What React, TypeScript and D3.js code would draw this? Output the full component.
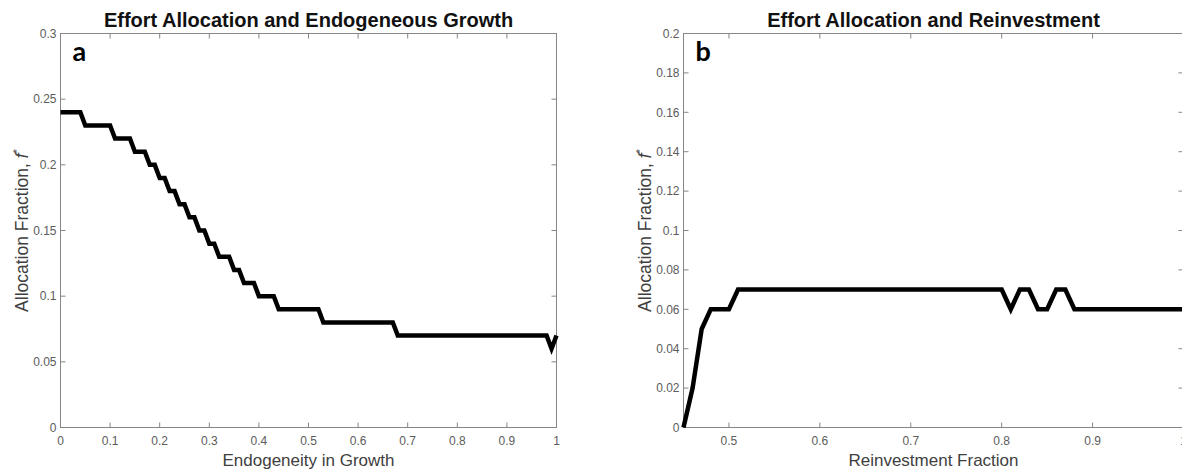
import React from 'react';
import * as d3 from 'd3';

// panel a: vertices of the stepped curve (endogeneity -> allocation fraction)
const endoX = [0, 0.04, 0.05, 0.10, 0.11, 0.14, 0.15, 0.17, 0.18, 0.19, 0.20, 0.21, 0.22, 0.23, 0.24, 0.25, 0.26, 0.27, 0.28, 0.29, 0.30, 0.31, 0.32, 0.34, 0.35, 0.36, 0.37, 0.39, 0.40, 0.43, 0.44, 0.52, 0.53, 0.67, 0.68, 0.98, 0.99, 1.0];
const endoY = [0.24, 0.24, 0.23, 0.23, 0.22, 0.22, 0.21, 0.21, 0.20, 0.20, 0.19, 0.19, 0.18, 0.18, 0.17, 0.17, 0.16, 0.16, 0.15, 0.15, 0.14, 0.14, 0.13, 0.13, 0.12, 0.12, 0.11, 0.11, 0.10, 0.10, 0.09, 0.09, 0.08, 0.08, 0.07, 0.07, 0.06, 0.07];

// panel b: reinvestment fraction -> allocation fraction
const reinvX = [0.45, 0.46, 0.47, 0.48, 0.50, 0.51, 0.80, 0.81, 0.82, 0.83, 0.84, 0.85, 0.86, 0.87, 0.88, 1.0];
const reinvY = [0, 0.02, 0.05, 0.06, 0.06, 0.07, 0.07, 0.06, 0.07, 0.07, 0.06, 0.06, 0.07, 0.07, 0.06, 0.06];

const endoXTicks = [0, 0.1, 0.2, 0.3, 0.4, 0.5, 0.6, 0.7, 0.8, 0.9, 1];
const endoXLabels = ['0', '0.1', '0.2', '0.3', '0.4', '0.5', '0.6', '0.7', '0.8', '0.9', '1'];
const endoYTicks = [0, 0.05, 0.1, 0.15, 0.2, 0.25, 0.3];
const endoYLabels = ['0', '0.05', '0.1', '0.15', '0.2', '0.25', '0.3'];

const reinvXTicks = [0.5, 0.6, 0.7, 0.8, 0.9, 1];
const reinvXLabels = ['0.5', '0.6', '0.7', '0.8', '0.9', '1'];
const reinvYTicks = [0, 0.02, 0.04, 0.06, 0.08, 0.1, 0.12, 0.14, 0.16, 0.18, 0.2];
const reinvYLabels = ['0', '0.02', '0.04', '0.06', '0.08', '0.1', '0.12', '0.14', '0.16', '0.18', '0.2'];

const AXIS = '#868686';
const TICKTXT = '#5c5c5c';
const LABEL = '#404040';
const FONT = '"Liberation Sans", Arial, Helvetica, sans-serif';

type PanelProps = {
  left: number; right: number; top: number; bottom: number;
  xDomain: [number, number]; yDomain: [number, number];
  xTicks: number[]; xLabels: string[]; yTicks: number[]; yLabels: string[];
  xs: number[]; ys: number[];
  title: string; xLabel: string; letter: string;
};

function Panel(p: PanelProps) {
  const x = d3.scaleLinear().domain(p.xDomain).range([p.left, p.right]);
  const y = d3.scaleLinear().domain(p.yDomain).range([p.bottom, p.top]);
  const pts = p.xs.map((v, i) => [v, p.ys[i]] as [number, number]);
  const line = d3.line<[number, number]>().x(d => x(d[0])).y(d => y(d[1]));
  const tl = 5;
  const cx = (p.left + p.right) / 2;
  const cy = (p.top + p.bottom) / 2;

  return (
    <g>
      <text x={cx} y={26.5} textAnchor="middle" fontFamily={FONT} fontWeight="bold" fontSize={20} fill="#111">{p.title}</text>

      {/* box */}
      <rect x={p.left} y={p.top} width={p.right - p.left} height={p.bottom - p.top} fill="none" stroke={AXIS} strokeWidth={1} />

      {p.xTicks.map((t, i) => (
        <g key={'x' + i}>
          <line x1={x(t)} x2={x(t)} y1={p.bottom} y2={p.bottom - tl} stroke={AXIS} />
          <line x1={x(t)} x2={x(t)} y1={p.top} y2={p.top + tl} stroke={AXIS} />
          <text x={x(t)} y={p.bottom + 17.5} textAnchor="middle" fontFamily={FONT} fontSize={12} fill={TICKTXT}>{p.xLabels[i]}</text>
        </g>
      ))}
      {p.yTicks.map((t, i) => (
        <g key={'y' + i}>
          <line x1={p.left} x2={p.left + tl} y1={y(t)} y2={y(t)} stroke={AXIS} />
          <line x1={p.right} x2={p.right - tl} y1={y(t)} y2={y(t)} stroke={AXIS} />
          <text x={p.left - 4} y={y(t)} dy="0.35em" textAnchor="end" fontFamily={FONT} fontSize={12} fill={TICKTXT}>{p.yLabels[i]}</text>
        </g>
      ))}

      <path d={line(pts) || ''} fill="none" stroke="#000" strokeWidth={4.5} strokeLinejoin="miter" strokeMiterlimit={4} />

      <text x={p.left + 12} y={60.5} fontFamily="Lato, 'Open Sans', sans-serif" fontWeight="bold" fontSize={27} fill="#000">{p.letter}</text>

      <text x={cx} y={466} textAnchor="middle" fontFamily={FONT} fontSize={17} fill={LABEL}>{p.xLabel}</text>

      <text transform={`translate(${p.left - 33},${cy}) rotate(-90)`} textAnchor="middle" fontFamily={FONT} fontSize={17.5} fill={LABEL}>
        Allocation Fraction, <tspan fontStyle="italic">f</tspan><tspan dy={-7} fontSize={11}>*</tspan>
      </text>
    </g>
  );
}

export default function App() {
  return (
    <svg width={1182} height={470} style={{ position: 'absolute', left: 0, top: 0, background: '#fff' }}>
      <rect width={1182} height={470} fill="#fff" />
      <Panel left={60.5} right={556.5} top={33.5} bottom={427.5}
        xDomain={[0, 1]} yDomain={[0, 0.3]}
        xTicks={endoXTicks} xLabels={endoXLabels} yTicks={endoYTicks} yLabels={endoYLabels}
        xs={endoX} ys={endoY}
        title="Effort Allocation and Endogeneous Growth" xLabel="Endogeneity in Growth" letter="a" />
      <Panel left={683.5} right={1183.5} top={33.5} bottom={427.5}
        xDomain={[0.45, 1]} yDomain={[0, 0.2]}
        xTicks={reinvXTicks} xLabels={reinvXLabels} yTicks={reinvYTicks} yLabels={reinvYLabels}
        xs={reinvX} ys={reinvY}
        title="Effort Allocation and Reinvestment" xLabel="Reinvestment Fraction" letter="b" />
    </svg>
  );
}
